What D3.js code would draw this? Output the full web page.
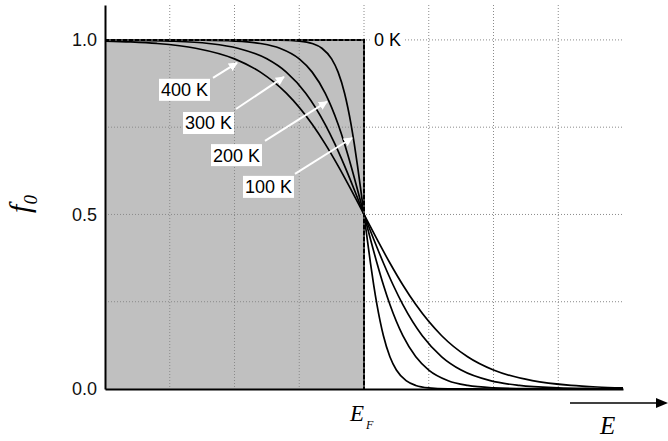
<!DOCTYPE html>
<html>
<head>
<meta charset="utf-8">
<script src="https://cdn.jsdelivr.net/npm/d3@7"></script>
<style>
  body { margin: 0; background: #fff; }
  svg { display: block; }
</style>
</head>
<body>
<svg id="chart"></svg>
<script>
// energy axis in grid units (E_F = 4), occupation f0
const tempLabels = ["100 K", "200 K", "300 K", "400 K"];

const e100 = [0, 1.8, 2.3, 2.7, 3.0, 3.2, 3.35, 3.5, 3.6, 3.7, 3.8, 3.85, 3.9, 3.95, 4.0,
              4.05, 4.1, 4.15, 4.2, 4.3, 4.4, 4.5, 4.65, 4.8, 5.0, 5.3, 5.7, 6.2, 8.0];
const f100 = [1.0, 1.0, 0.9999, 0.9994, 0.9967, 0.9898, 0.9762, 0.9457, 0.9077, 0.8474, 0.7582, 0.7021, 0.6391, 0.5709, 0.5,
              0.4291, 0.3609, 0.2979, 0.2418, 0.1526, 0.0923, 0.0543, 0.0238, 0.0102, 0.0033, 0.0006, 0.0001, 0.0, 0.0];

const e200 = [0, 1.0, 1.5, 2.0, 2.4, 2.7, 3.0, 3.2, 3.4, 3.6, 3.7, 3.8, 3.9, 4.0,
              4.1, 4.2, 4.3, 4.4, 4.6, 4.8, 5.0, 5.3, 5.6, 6.0, 6.5, 7.0, 8.0];
const f200 = [1.0, 0.9998, 0.9992, 0.9967, 0.9898, 0.9762, 0.9457, 0.9077, 0.8474, 0.7582, 0.7021, 0.6391, 0.5709, 0.5,
              0.4291, 0.3609, 0.2979, 0.2418, 0.1526, 0.0923, 0.0543, 0.0238, 0.0102, 0.0033, 0.0008, 0.0002, 0.0];

const e300 = [0, 0.5, 1.0, 1.6, 2.05, 2.5, 2.8, 3.1, 3.4, 3.55, 3.7, 3.85, 4.0,
              4.15, 4.3, 4.45, 4.6, 4.9, 5.2, 5.5, 5.95, 6.4, 7.0, 7.5, 8.0];
const f300 = [0.9995, 0.9987, 0.9967, 0.9898, 0.9762, 0.9457, 0.9077, 0.8474, 0.7582, 0.7021, 0.6391, 0.5709, 0.5,
              0.4291, 0.3609, 0.2979, 0.2418, 0.1526, 0.0923, 0.0543, 0.0238, 0.0102, 0.0033, 0.0013, 0.0005];

const e400 = [0, 0.4, 0.8, 1.4, 2.0, 2.4, 2.8, 3.2, 3.4, 3.6, 3.8, 4.0,
              4.2, 4.4, 4.6, 4.8, 5.2, 5.6, 6.0, 6.6, 7.2, 7.6, 8.0];
const f400 = [0.9967, 0.9942, 0.9898, 0.9762, 0.9457, 0.9077, 0.8474, 0.7582, 0.7021, 0.6391, 0.5709, 0.5,
              0.4291, 0.3609, 0.2979, 0.2418, 0.1526, 0.0923, 0.0543, 0.0238, 0.0102, 0.0058, 0.0033];

// T = 0 K step
const e0 = [0, 4, 4];
const f0 = [1, 1, 0];

// label boxes (left edge, centre) and arrows (tail -> head), in data units
const labelE = [2.131, 1.637, 1.205, 0.834];
const labelF = [0.579, 0.670, 0.762, 0.857];
const arrowE0 = [2.934, 2.471, 2.023, 1.668];
const arrowF0 = [0.616, 0.711, 0.802, 0.891];
const arrowE1 = [3.815, 3.429, 2.764, 2.039];
const arrowF1 = [0.719, 0.823, 0.894, 0.934];

const yTicks = [0, 0.5, 1.0];
const yGrid = [0.25, 0.5, 0.75, 1.0];
const xGrid = [1, 2, 3, 4, 5, 6, 7];

const width = 668, height = 441;
const margin = { top: 5, right: 45, bottom: 52, left: 105 };

const svg = d3.select("#chart")
    .attr("width", width)
    .attr("height", height);

const x = d3.scaleLinear([0, 8], [margin.left, width - margin.right]);
const y = d3.scaleLinear([0, 1.1], [height - margin.bottom, margin.top]);

const sans = "'Liberation Sans', Arial, sans-serif";
const serif = "'Liberation Serif', 'Times New Roman', serif";

// filled states at 0 K
svg.append("rect")
    .attr("x", x(0))
    .attr("y", y(1))
    .attr("width", x(4) - x(0))
    .attr("height", y(0) - y(1))
    .attr("fill", "#c0c0c0");

// dotted grid
svg.append("g")
    .selectAll("line")
    .data(xGrid)
    .join("line")
    .attr("x1", d => x(d)).attr("x2", d => x(d))
    .attr("y1", y(1.1)).attr("y2", y(0))
    .attr("stroke", "#8a8a8a")
    .attr("stroke-dasharray", "1,2");

svg.append("g")
    .selectAll("line")
    .data(yGrid)
    .join("line")
    .attr("x1", x(0)).attr("x2", x(8))
    .attr("y1", d => y(d)).attr("y2", d => y(d))
    .attr("stroke", "#8a8a8a")
    .attr("stroke-dasharray", "1,2");

// Fermi-Dirac curves
const curves = [[e100, f100], [e200, f200], [e300, f300], [e400, f400]]
    .map(([es, fs]) => es.map((e, i) => [e, fs[i]]));

const line = d3.line()
    .x(d => x(d[0]))
    .y(d => y(d[1]))
    .curve(d3.curveMonotoneX);

svg.append("g")
    .selectAll("path")
    .data(curves)
    .join("path")
    .attr("d", line)
    .attr("fill", "none")
    .attr("stroke", "#000")
    .attr("stroke-width", 1.7);

// 0 K step
const step = e0.map((e, i) => [e, f0[i]]);
const stepLine = d3.line().x(d => x(d[0])).y(d => y(d[1]));
svg.append("path")
    .attr("d", stepLine(step))
    .attr("fill", "none")
    .attr("stroke", "#444")
    .attr("stroke-width", 2);
svg.append("path")
    .attr("d", stepLine(step))
    .attr("fill", "none")
    .attr("stroke", "#000")
    .attr("stroke-width", 2)
    .attr("stroke-dasharray", "4,2");

// axes
svg.append("g")
    .attr("transform", `translate(${x(0)},0)`)
    .call(d3.axisLeft(y).tickValues(yTicks).tickFormat(d3.format(".1f")).tickSize(0).tickPadding(8))
    .call(g => g.select(".domain").attr("stroke-width", 2))
    .call(g => g.selectAll(".tick text")
        .attr("font-family", sans)
        .attr("font-size", 18)
        .attr("fill", "#111"));

svg.append("g")
    .attr("transform", `translate(0,${y(0)})`)
    .call(d3.axisBottom(x).tickValues([]).tickSizeOuter(0))
    .call(g => g.select(".domain").attr("stroke-width", 2));

// 0 K label
svg.append("rect")
    .attr("x", x(4) + 8).attr("y", y(1) - 10)
    .attr("width", 32).attr("height", 20)
    .attr("fill", "#fff");
svg.append("text")
    .attr("x", x(4) + 10).attr("y", y(1))
    .attr("dy", "0.35em")
    .attr("font-family", sans)
    .attr("font-size", 18)
    .text("0 K");

// temperature labels with white arrows
svg.append("defs").append("marker")
    .attr("id", "head")
    .attr("viewBox", "0 0 10 10")
    .attr("refX", 9).attr("refY", 5)
    .attr("markerWidth", 4.5).attr("markerHeight", 4.5)
    .attr("markerUnits", "strokeWidth")
    .attr("orient", "auto")
    .append("path")
    .attr("d", "M0,0L10,5L0,10Z")
    .attr("fill", "#fff");

const ann = svg.append("g");
tempLabels.forEach((t, i) => {
    ann.append("line")
        .attr("x1", x(arrowE0[i])).attr("y1", y(arrowF0[i]))
        .attr("x2", x(arrowE1[i])).attr("y2", y(arrowF1[i]))
        .attr("stroke", "#fff")
        .attr("stroke-width", 2)
        .attr("marker-end", "url(#head)");
    ann.append("rect")
        .attr("x", x(labelE[i])).attr("y", y(labelF[i]) - 11)
        .attr("width", 51).attr("height", 22)
        .attr("fill", "#fff");
    ann.append("text")
        .attr("x", x(labelE[i]) + 2).attr("y", y(labelF[i]))
        .attr("dy", "0.36em")
        .attr("font-family", sans)
        .attr("font-size", 18)
        .text(t);
});

// y label f0
const yl = svg.append("text")
    .attr("transform", "translate(30,204) rotate(-90)")
    .attr("text-anchor", "middle")
    .attr("font-family", serif)
    .attr("font-style", "italic");
yl.append("tspan").attr("font-size", 30).text("f");
yl.append("tspan").attr("font-size", 19).attr("dy", 7).text("0");

// E_F label
const ef = svg.append("text")
    .attr("x", x(4) - 14).attr("y", 421)
    .attr("font-family", serif)
    .attr("font-style", "italic");
ef.append("tspan").attr("font-size", 23).text("E");
ef.append("tspan").attr("font-size", 12).attr("dy", 8).attr("dx", 2).text("F");

// energy arrow
svg.append("line")
    .attr("x1", 570).attr("x2", 658)
    .attr("y1", 403).attr("y2", 403)
    .attr("stroke", "#000").attr("stroke-width", 1.5);
svg.append("path")
    .attr("d", "M656,398L668,403L656,408Z")
    .attr("fill", "#000");
svg.append("text")
    .attr("x", 600).attr("y", 434)
    .attr("font-family", serif)
    .attr("font-style", "italic")
    .attr("font-size", 25)
    .text("E");
</script>
</body>
</html>
